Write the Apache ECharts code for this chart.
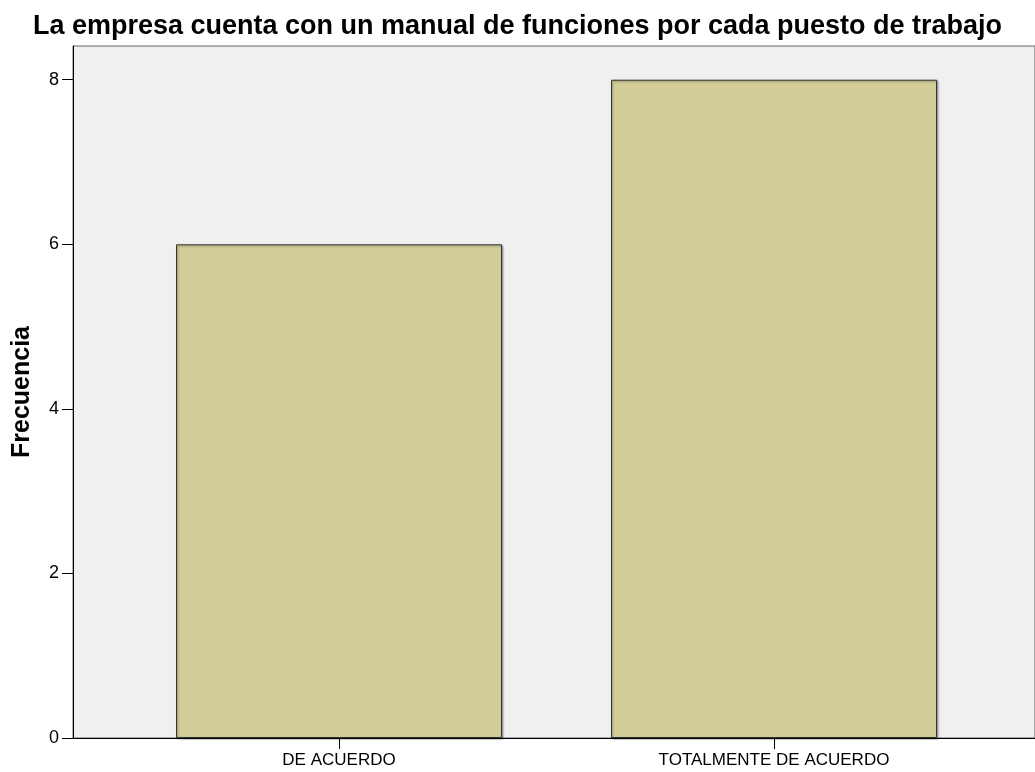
<!DOCTYPE html>
<html>
<head>
<meta charset="utf-8">
<script src="https://cdn.jsdelivr.net/npm/echarts@6/dist/echarts.min.js"></script>
<style>
  html, body { margin: 0; padding: 0; background: #fff; }
  #chart { width: 1035px; height: 772px; }
</style>
</head>
<body>
<div id="chart"></div>
<script>
  // datos
  const categories = ['DE ACUERDO', 'TOTALMENTE DE ACUERDO']
  const frecuencias = [6, 8]
  const yTicks = [0, 2, 4, 6, 8]

  const chart = echarts.init(document.getElementById('chart'))
  const positions = categories.map((c, i) => i)
  const font = 'Liberation Sans, Arial, sans-serif'

  const option = {
    animation: false,
    title: {
      text: 'La empresa cuenta con un manual de funciones por cada puesto de trabajo',
      left: 'center',
      top: 8,
      textStyle: {
        fontFamily: font,
        fontSize: 27,
        fontWeight: 'bold',
        color: '#000'
      }
    },
    grid: {
      left: 73,
      right: 0,
      top: 46,
      bottom: 34,
      show: true,
      backgroundColor: '#f0f0f0',
      borderColor: '#666',
      borderWidth: 1
    },
    xAxis: {
      type: 'value',
      min: -0.6115,
      max: 1.6,
      splitLine: { show: false },
      axisLine: { show: true, onZero: false, lineStyle: { color: '#000', width: 1 } },
      axisTick: { show: true, customValues: positions, length: 11, lineStyle: { color: '#000' } },
      axisLabel: {
        customValues: positions,
        formatter: (v) => categories[Math.round(v)],
        color: '#000',
        fontFamily: font,
        fontSize: 17,
        margin: 14
      }
    },
    yAxis: {
      type: 'value',
      min: 0,
      max: 8.41,
      interval: 2,
      name: 'Frecuencia',
      nameLocation: 'middle',
      nameGap: 38,
      nameTextStyle: {
        fontFamily: font,
        fontSize: 25,
        fontWeight: 'bold',
        color: '#000'
      },
      splitLine: { show: false },
      axisLine: { show: true, onZero: false, lineStyle: { color: '#000', width: 1 } },
      axisTick: { show: true, length: 11, lineStyle: { color: '#000' } },
      axisLabel: {
        color: '#000',
        fontFamily: font,
        fontSize: 18,
        margin: 14,
        showMaxLabel: false,
        formatter: (v) => (yTicks.includes(v) ? String(v) : '')
      }
    },
    series: [
      {
        type: 'bar',
        data: frecuencias.map((f, i) => [positions[i], f]),
        barWidth: 326,
        itemStyle: {
          color: '#d3cd98',
          borderColor: '#333',
          borderWidth: 1,
          shadowColor: 'rgba(0,0,0,0.35)',
          shadowBlur: 2,
          shadowOffsetX: 1,
          shadowOffsetY: 1
        }
      }
    ]
  }

  chart.setOption(option)
</script>
</body>
</html>
